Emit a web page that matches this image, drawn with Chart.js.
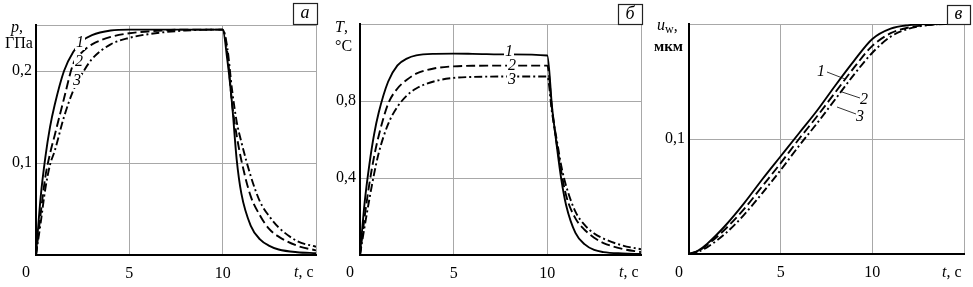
<!DOCTYPE html>
<html>
<head>
<meta charset="utf-8">
<script src="https://cdn.jsdelivr.net/npm/chart.js@4"></script>
<style>
  body { margin: 0; background: #fff; }
  #wrap { position: relative; width: 973px; height: 287px; }
  canvas { position: absolute; top: 0; }
</style>
</head>
<body>
<div id="wrap">
  <canvas id="cA" width="325" height="287" style="left:0"></canvas>
  <canvas id="cB" width="325" height="287" style="left:325px"></canvas>
  <canvas id="cC" width="323" height="287" style="left:650px"></canvas>
</div>
<script>
// panel a: pressure p, GPa
const tA = [0, 0.25, 0.5, 0.75, 1, 1.5, 2, 2.5, 3, 4, 5, 6, 8, 10, 10.25, 10.5, 10.75, 11, 11.5, 12, 12.5, 13, 14, 15];
const pA1 = [0, 0.063, 0.106, 0.139, 0.163, 0.2, 0.221, 0.233, 0.239, 0.244, 0.245, 0.245, 0.245, 0.245, 0.212, 0.165, 0.104, 0.067, 0.032, 0.017, 0.01, 0.006, 0.003, 0.002];
const pA2 = [0, 0.045, 0.085, 0.11, 0.13, 0.17, 0.208, 0.221, 0.229, 0.237, 0.241, 0.243, 0.245, 0.245, 0.22, 0.165, 0.13, 0.103, 0.064, 0.043, 0.028, 0.02, 0.01, 0.005];
const pA3 = [0, 0.035, 0.072, 0.098, 0.113, 0.15, 0.179, 0.198, 0.213, 0.229, 0.236, 0.24, 0.244, 0.245, 0.225, 0.18, 0.145, 0.123, 0.086, 0.058, 0.042, 0.03, 0.015, 0.009];

// panel b: temperature T, C
const tB = [0, 0.25, 0.5, 0.75, 1, 1.5, 2, 2.5, 3, 4, 5, 6, 8, 10, 10.25, 10.5, 10.75, 11, 11.5, 12, 12.5, 13, 14, 15];
const TB1 = [0, 0.275, 0.47, 0.625, 0.74, 0.9, 0.985, 1.02, 1.037, 1.045, 1.046, 1.045, 1.042, 1.036, 0.77, 0.57, 0.39, 0.26, 0.115, 0.055, 0.026, 0.015, 0.008, 0.005];
const TB2 = [0, 0.2, 0.37, 0.51, 0.62, 0.785, 0.865, 0.91, 0.942, 0.97, 0.98, 0.983, 0.984, 0.984, 0.76, 0.58, 0.43, 0.31, 0.19, 0.13, 0.09, 0.062, 0.032, 0.015];
const TB3 = [0, 0.15, 0.29, 0.42, 0.53, 0.68, 0.77, 0.828, 0.865, 0.903, 0.92, 0.925, 0.927, 0.927, 0.74, 0.6, 0.46, 0.36, 0.225, 0.155, 0.112, 0.085, 0.05, 0.03];

// panel c: displacement u_w, um
const tC = [0, 0.5, 1, 2, 3, 4, 5, 6, 7, 8, 9, 10, 11, 12, 13, 14, 15];
const uC1 = [0, 0.003, 0.009, 0.025, 0.044, 0.065, 0.085, 0.105, 0.125, 0.147, 0.168, 0.187, 0.196, 0.199, 0.2, 0.2, 0.2];
const uC2 = [0, 0.0025, 0.008, 0.022, 0.039, 0.059, 0.079, 0.1, 0.12, 0.141, 0.162, 0.181, 0.192, 0.197, 0.199, 0.2, 0.2];
const uC3 = [0, 0.002, 0.006, 0.018, 0.034, 0.053, 0.073, 0.094, 0.114, 0.135, 0.156, 0.175, 0.189, 0.196, 0.199, 0.2, 0.2];

const SERIF = '"Liberation Serif", "DejaVu Serif", serif';
const STYLES = [[], [9, 4], [8, 3, 2, 3]];

function lines(t, series) {
  return series.map((s, i) => ({
    data: t.map((x, j) => ({ x: x, y: s[j] })),
    borderColor: '#000',
    borderWidth: 1.9,
    borderDash: STYLES[i],
    pointRadius: 0,
    fill: false,
    cubicInterpolationMode: 'monotone'
  }));
}

function fmt(v) { return v.toFixed(1).replace('.', ','); }

// extra texts: axis names, panel letter, curve numbers
function decor(o) {
  return {
    id: 'decor',
    afterDatasetsDraw(chart) {
      const c = chart.ctx, a = chart.chartArea;
      c.save();
      c.fillStyle = '#000';
      c.textBaseline = 'middle';
      // origin 0 and t, c
      c.font = '16px ' + SERIF;
      c.textAlign = 'center';
      c.fillText('0', a.left - 10, 273);
      c.textAlign = 'left';
      const xr = a.right - 22;
      c.font = 'italic 16px ' + SERIF;
      c.fillText('t', xr, 273);
      const tw = c.measureText('t').width;
      c.font = '16px ' + SERIF;
      c.fillText(', c', xr + tw, 273);
      // axis name
      o.axis(c, a);
      // letter box
      c.strokeStyle = '#222';
      c.lineWidth = 1.2;
      c.fillStyle = '#fff';
      c.fillRect(o.box[0], o.box[1], o.box[2], o.box[3]);
      c.strokeRect(o.box[0] + 0.5, o.box[1] + 0.5, o.box[2], o.box[3]);
      c.fillStyle = '#000';
      c.font = 'italic 18px ' + SERIF;
      c.textAlign = 'center';
      c.fillText(o.letter, o.box[0] + o.box[2] / 2, o.box[1] + o.box[3] / 2);
      // leader lines
      c.lineWidth = 0.8;
      c.strokeStyle = '#000';
      (o.leaders || []).forEach(l => {
        c.beginPath(); c.moveTo(l[0], l[1]); c.lineTo(l[2], l[3]); c.stroke();
      });
      // curve numbers
      c.font = 'italic 16px ' + SERIF;
      o.nums.forEach(n => {
        if (n[3]) { c.fillStyle = '#fff'; c.fillRect(n[1] - 5, n[2] - 7, 10, 14); }
        c.fillStyle = '#000';
        c.fillText(n[0], n[1], n[2]);
      });
      c.restore();
    }
  };
}

function makeChart(id, t, series, ymax, ystep, yshow, pad, yw, xh, deco) {
  return new Chart(document.getElementById(id), {
    type: 'line',
    data: { datasets: lines(t, series) },
    plugins: [decor(deco)],
    options: {
      responsive: false,
      animation: false,
      layout: { padding: pad },
      plugins: { legend: { display: false }, tooltip: { enabled: false } },
      scales: {
        x: {
          type: 'linear', min: 0, max: 15,
          ticks: {
            stepSize: 5, color: '#000', padding: 9,
            font: { family: SERIF, size: 16 },
            maxRotation: 0,
            callback: v => (v === 5 || v === 10) ? String(v) : ''
          },
          grid: { color: '#a8a8a8', lineWidth: 1, drawTicks: false },
          border: { color: '#000', width: 2 },
          afterFit(s) { s.height = xh; }
        },
        y: {
          type: 'linear', min: 0, max: ymax,
          ticks: {
            stepSize: ystep, color: '#000', padding: 4,
            font: { family: SERIF, size: 16 },
            callback: v => yshow.some(s => Math.abs(s - v) < 1e-6) ? fmt(v) : ''
          },
          grid: { color: '#a8a8a8', lineWidth: 1, drawTicks: false },
          border: { color: '#000', width: 2 },
          afterFit(s) { s.width = yw; }
        }
      }
    }
  });
}

function italicThenPlain(c, x, y, it, plain) {
  c.textAlign = 'left';
  c.font = 'italic 16px ' + SERIF;
  c.fillText(it, x, y);
  const w = c.measureText(it).width;
  c.font = '16px ' + SERIF;
  c.fillText(plain, x + w, y);
}

makeChart('cA', tA, [pA1, pA2, pA3], 0.25, 0.1, [0.1, 0.2],
  { left: 0, right: 8, top: 25, bottom: 0 }, 36, 32, {
    letter: 'а', box: [293, 3, 24, 21],
    axis(c) {
      italicThenPlain(c, 11, 28, 'p', ',');
      c.font = '16px ' + SERIF; c.textAlign = 'left';
      c.fillText('ГПа', 5, 44);
    },
    nums: [['1', 80, 43, true], ['2', 79, 62, true], ['3', 77, 81, true]]
  });

makeChart('cB', tB, [TB1, TB2, TB3], 1.2, 0.4, [0.4, 0.8],
  { left: 0, right: 8, top: 24, bottom: 0 }, 35, 32, {
    letter: 'б', box: [293, 4, 24, 20],
    axis(c) {
      italicThenPlain(c, 10, 28, 'T', ',');
      c.font = '16px ' + SERIF; c.textAlign = 'left';
      c.fillText('°C', 10, 47);
    },
    nums: [['1', 184, 52, true], ['2', 187, 66, true], ['3', 187, 80, true]]
  });

makeChart('cC', tC, [uC1, uC2, uC3], 0.2, 0.1, [0.1],
  { left: 0, right: 3, top: 24, bottom: 0 }, 39, 33, {
    letter: 'в', box: [297, 5, 23, 19],
    axis(c) {
      c.textAlign = 'left';
      c.font = 'italic 16px ' + SERIF;
      c.fillText('u', 7, 26);
      const w = c.measureText('u').width;
      c.font = '12px ' + SERIF;
      c.fillText('w', 7 + w, 30);
      const w2 = c.measureText('w').width;
      c.font = '16px ' + SERIF;
      c.fillText(',', 7 + w + w2, 27);
      c.font = 'bold 15px ' + SERIF;
      c.fillText('мкм', 4, 47);
    },
    leaders: [[177, 72, 195, 79], [192, 92, 210, 98], [187, 107, 206, 114]],
    nums: [['1', 171, 72, false], ['2', 214, 100, false], ['3', 210, 117, false]]
  });
</script>
</body>
</html>
